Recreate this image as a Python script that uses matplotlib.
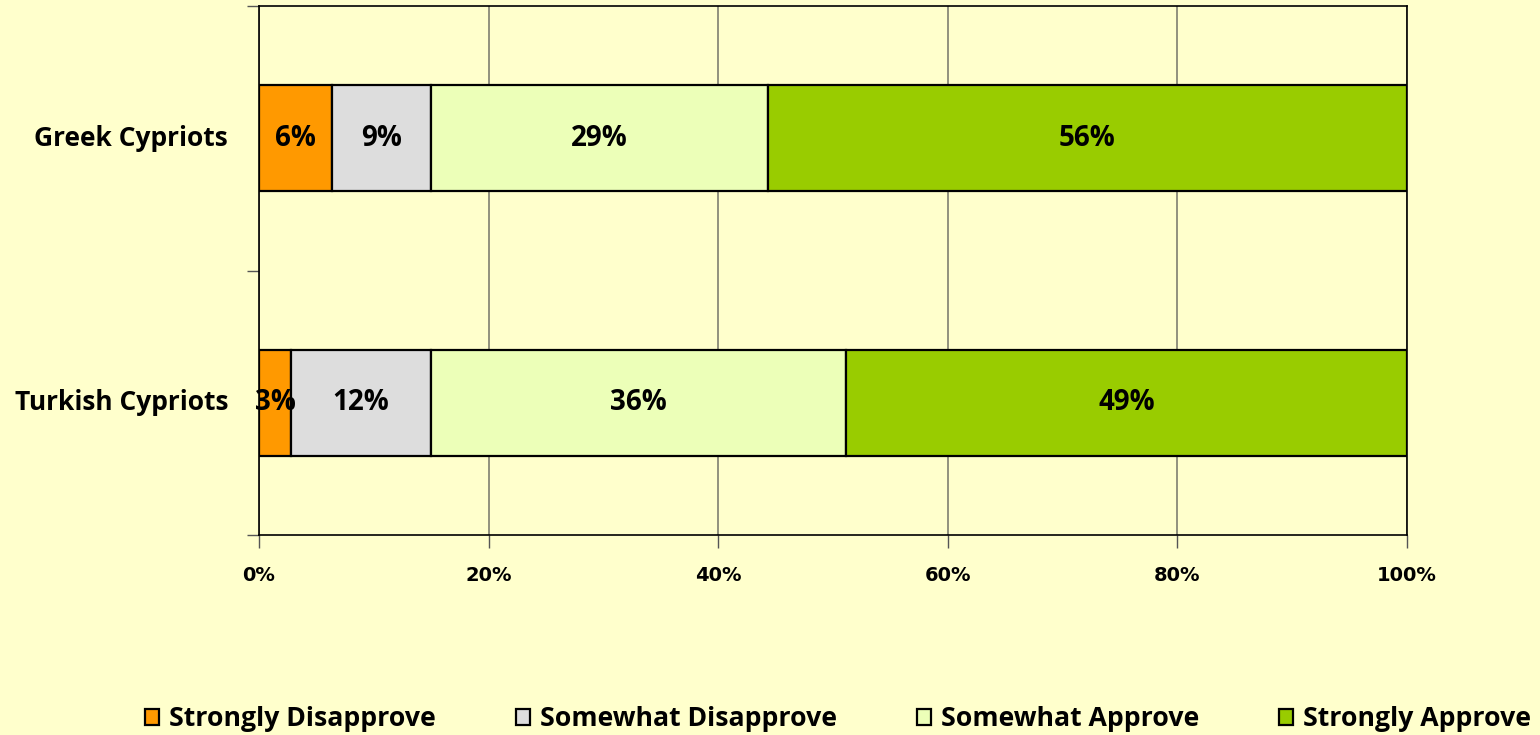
import numpy as np
import matplotlib
matplotlib.use('Agg')
import matplotlib.pyplot as plt

groups = ['Greek Cypriots', 'Turkish Cypriots']
series = ['Strongly Disapprove', 'Somewhat Disapprove', 'Somewhat Approve', 'Strongly Approve']
values = {
	'Strongly Disapprove': [6.4, 2.8],
	'Somewhat Disapprove': [8.6, 12.2],
	'Somewhat Approve': [29.3, 36.1],
	'Strongly Approve': [55.7, 48.9],
}
colors = ['#FF9900', '#DDDDDD', '#ECFFB8', '#99CC00']
xticks = [0, 20, 40, 60, 80, 100]

bg = '#FFFFCC'
fnt = 'Open Sans'
fig = plt.figure(figsize=(15.4, 7.35), dpi=100, facecolor=bg)
ax = fig.add_axes([259 / 1540, 1 - 535 / 735, 1148 / 1540, 529 / 735])
ax.set_facecolor(bg)

ypos = np.array([1, 0])
left = np.zeros(len(groups))
for s, c in zip(series, colors):
	v = np.array(values[s])
	ax.barh(ypos, v, left=left, height=0.4, color=c, edgecolor='black', linewidth=1.6, label=s, zorder=3)
	for y, l, w in zip(ypos, left, v):
		ax.text(l + w / 2, y, f'{w:.0f}%', ha='center', va='center', fontsize=20,
			fontweight='bold', family=fnt, zorder=4)
	left += v

ax.set_xlim(0, 100)
ax.set_ylim(-0.5, 1.5)
ax.set_xticks(xticks)
ax.set_xticklabels([f'{t}%' for t in xticks], fontsize=14, fontweight='bold', family='DejaVu Sans')
ax.set_yticks([-0.5, 0.5, 1.5])
ax.set_yticklabels([])
ax.tick_params(axis='both', direction='out', length=9, color='#555555', width=1)
ax.tick_params(axis='x', pad=13)
for y, g in zip(ypos, groups):
	ax.text(-0.027, y, g, transform=ax.get_yaxis_transform(), ha='right', va='center',
		fontsize=19, fontweight='bold', family=fnt)

ax.grid(axis='x', color='#7F7F70', linewidth=1.2, zorder=0)
for sp in ax.spines.values():
	sp.set_color('black')
	sp.set_linewidth(1.2)

leg = fig.legend(loc='center', bbox_to_anchor=(0.544, 1 - 719 / 735), ncol=4, frameon=False,
	prop={'family': fnt, 'weight': 'bold', 'size': 19.2}, handlelength=0.55, handleheight=0.55,
	handletextpad=0.35, columnspacing=3.0)

fig.savefig('out.png', dpi=100, facecolor=bg)
